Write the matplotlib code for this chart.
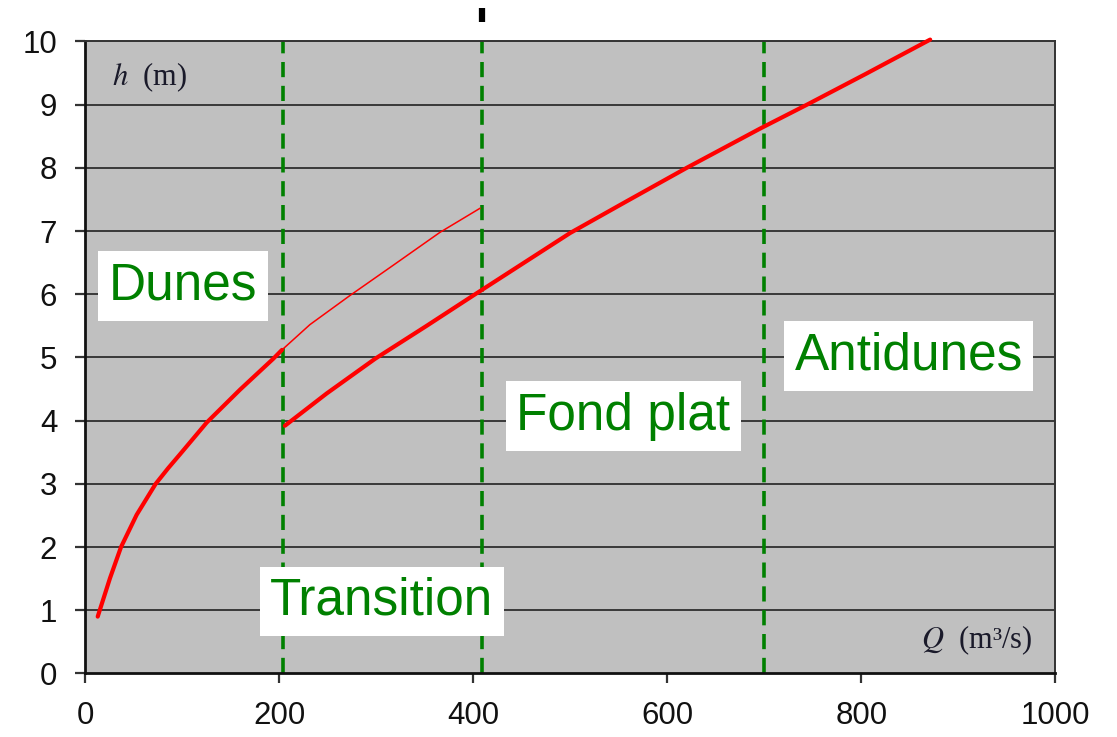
import numpy as np
import matplotlib.pyplot as plt

plt.rcParams['mathtext.fontset'] = 'stix'

# courbes : Q (m3/s), h (m)
dunes_q = [13.1, 25.8, 37.1, 53.2, 72.8, 85.8, 98.0, 125.4, 159.7, 194.0, 203.0]
dunes_h = [0.90, 1.51, 2.00, 2.51, 3.00, 3.25, 3.47, 3.97, 4.49, 4.98, 5.12]

prolong_q = [203.0, 231.8, 273.0, 317.7, 365.8, 407.0]
prolong_h = [5.12, 5.52, 5.98, 6.46, 6.98, 7.36]

plat_q = [206.0, 249.0, 299.0, 352.0, 400.0, 500.0, 558.0, 620.0, 695.5, 744.0, 805.0, 871.0]
plat_h = [3.92, 4.43, 4.98, 5.50, 5.98, 6.97, 7.47, 8.00, 8.62, 9.00, 9.49, 10.03]

# limites entre regimes
limites_q = [204, 409, 700]

# etiquettes des regimes (texte, Q, h)
regimes = ["Dunes", "Transition", "Fond plat", "Antidunes"]
regimes_q = [101, 306, 555, 849]
regimes_h = [6.13, 1.14, 4.07, 5.02]

# petite marque noire au-dessus du cadre
marque_q = [409, 409]
marque_h = [10.31, 10.53]

xticks = [0, 200, 400, 600, 800, 1000]
yticks = list(range(0, 11))

fig = plt.figure(figsize=(11.17, 7.37), dpi=100)
ax = fig.add_axes([0.0761, 0.0862, 0.8687, 0.8575])
ax.set_facecolor('#c0c0c0')

ax.set_xlim(0, 1000)
ax.set_ylim(0, 10)

# quadrillage horizontal
for y in yticks[1:-1]:
    ax.axhline(y, color='#2e2e2e', lw=1.3, zorder=1)

# limites verticales
for q in limites_q:
    ax.axvline(q, color='#008000', lw=2.6, dashes=(4.2, 2.4), zorder=2)

ax.plot(dunes_q, dunes_h, color='red', lw=3.0, solid_capstyle='round',
        solid_joinstyle='round', zorder=3)
ax.plot(prolong_q, prolong_h, color='red', lw=1.1, solid_joinstyle='round', zorder=3)
ax.plot(plat_q, plat_h, color='red', lw=3.0, solid_capstyle='round',
        solid_joinstyle='round', zorder=3, clip_on=False)

ax.plot(marque_q, marque_h, color='black', lw=4.5, solid_capstyle='butt', clip_on=False)

for nom, q, h in zip(regimes, regimes_q, regimes_h):
    ax.text(q, h, nom, fontsize=37, color='#008000', family='Liberation Sans',
            ha='center', va='center', zorder=5,
            bbox=dict(boxstyle='square,pad=0.2', fc='white', ec='none'))

ax.text(28, 9.43, r"$h$  (m)", fontsize=22, family='Liberation Serif',
        color='#1a1a2a', ha='left', va='center', zorder=5)
ax.text(976, 0.53, r"$Q$  (m³/s)", fontsize=22, family='Liberation Serif',
        color='#1a1a2a', ha='right', va='center', zorder=5)

ax.set_xticks(xticks)
ax.set_yticks(yticks)
ax.tick_params(direction='out', length=7, width=1.6, color='#333333',
               labelsize=22.5, pad=13, labelcolor='#111111')
for lab in ax.get_xticklabels() + ax.get_yticklabels():
    lab.set_family('Liberation Sans')

for side in ['left', 'bottom']:
    ax.spines[side].set_linewidth(2.0)
    ax.spines[side].set_color('#111111')
for side in ['top', 'right']:
    ax.spines[side].set_linewidth(1.4)
    ax.spines[side].set_color('#333333')

fig.savefig('out.png', dpi=100)
